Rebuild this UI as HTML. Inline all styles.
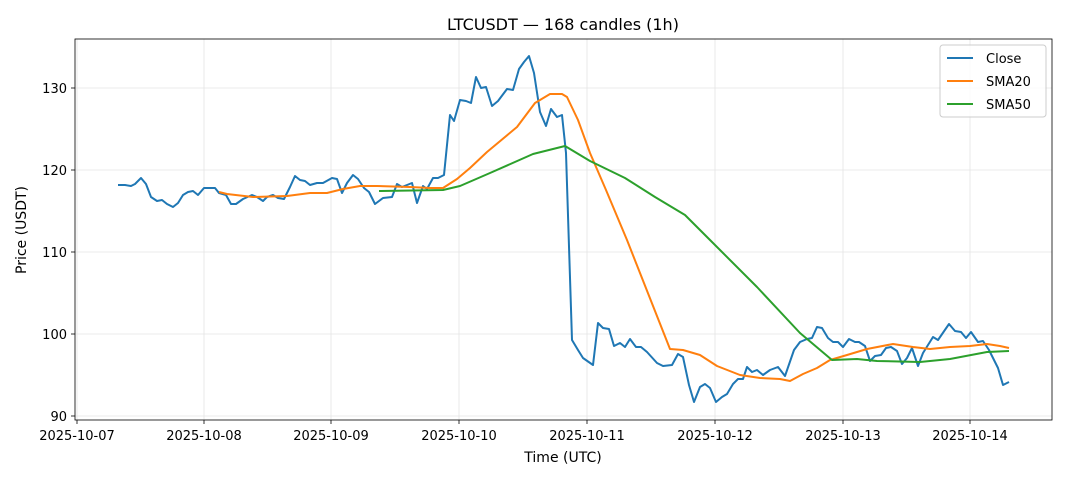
<!DOCTYPE html>
<html><head><meta charset="utf-8"><style>
body{margin:0;background:#fff;}
svg{display:block;font-family:"DejaVu Sans","Liberation Sans",sans-serif;}
</style></head><body>
<svg width="1068" height="481" viewBox="0 0 1068 481" xmlns="http://www.w3.org/2000/svg">
<rect width="1068" height="481" fill="#fff"/>
<g stroke="#e5e5e5" stroke-width="0.8">
<line x1="77" y1="39" x2="77" y2="420"/><line x1="204" y1="39" x2="204" y2="420"/><line x1="331" y1="39" x2="331" y2="420"/><line x1="459" y1="39" x2="459" y2="420"/><line x1="587" y1="39" x2="587" y2="420"/><line x1="715" y1="39" x2="715" y2="420"/><line x1="843" y1="39" x2="843" y2="420"/><line x1="970" y1="39" x2="970" y2="420"/>
<line x1="75" y1="416" x2="1052" y2="416"/><line x1="75" y1="334" x2="1052" y2="334"/><line x1="75" y1="252" x2="1052" y2="252"/><line x1="75" y1="170" x2="1052" y2="170"/><line x1="75" y1="88" x2="1052" y2="88"/>
</g>
<g fill="none" stroke-width="2" stroke-linejoin="round">
<polyline stroke="#1f77b4" points="118,185 125,185 131,186 135,184 141,178 146,184 151,197 157,201 162,200 167,204 173,207 178,203 183,195 188,192 193,191 198,195 204,188 215,188 219,193 226,195 231,204 236,204 243,199 252,195 257,197 263,201 267,197 273,195 278,198 284,199 290,187 295,176 300,180 305,181 310,185 317,183 323,183 332,178 337,179 342,193 347,183 353,175 358,179 364,188 369,192 375,204 383,198 392,197 397,184 402,187 412,183 417,203 423,186 427,189 433,178 438,178 444,175 450,115 454,121 460,100 466,101 471,103 476,77 481,88 486,87 492,106 498,101 507,89 513,90 519,69 524,62 529,56 534,73 540,112 546,126 551,109 557,117 562,115 566,153 572,340 578,350 583,358 593,365 598,323 603,328 609,329 614,346 620,343 625,347 630,339 636,347 641,347 647,352 657,363 663,366 672,365 678,354 683,357 689,385 694,402 700,387 705,384 710,388 716,402 722,397 727,394 733,384 738,379 743,379 747,367 752,372 757,370 763,375 770,370 778,367 785,376 794,350 800,342 807,339 812,338 817,327 822,328 828,338 833,342 838,342 843,347 849,339 855,342 859,342 865,346 870,361 875,356 881,355 886,348 891,347 897,351 902,364 907,358 912,348 918,366 923,353 933,337 938,340 949,324 955,331 961,332 966,338 971,332 978,342 983,341 989,350 998,368 1003,385 1009,382"/>
<polyline stroke="#ff7f0e" points="219,192 227,194 253,197 287,196 310,193 327,193 343,189 360,186 377,186 410,187 430,188 443,188 457,179 470,168 487,152 517,127 535,103 550,94 562,94 567,97 578,120 590,153 606,190 627,240 640,273 670,349 683,350 700,355 717,366 740,375 760,378 780,379 790,381 803,374 817,368 830,360 847,355 867,349 893,344 913,347 930,349 950,347 970,346 987,344 1000,346 1009,348"/>
<polyline stroke="#2ca02c" points="379,191 443,190 460,186 490,173 533,154 565,146 590,161 625,178 655,197 685,215 710,240 757,287 800,333 832,360 857,359 877,361 920,362 950,359 987,352 1009,351"/>
</g>
<rect x="75" y="39" width="977" height="381" fill="none" stroke="#000" stroke-width="0.8"/>
<g stroke="#000" stroke-width="0.8">
<line x1="77" y1="420" x2="77" y2="424"/><line x1="204" y1="420" x2="204" y2="424"/><line x1="331" y1="420" x2="331" y2="424"/><line x1="459" y1="420" x2="459" y2="424"/><line x1="587" y1="420" x2="587" y2="424"/><line x1="715" y1="420" x2="715" y2="424"/><line x1="843" y1="420" x2="843" y2="424"/><line x1="970" y1="420" x2="970" y2="424"/>
<line x1="71" y1="416" x2="75" y2="416"/><line x1="71" y1="334" x2="75" y2="334"/><line x1="71" y1="252" x2="75" y2="252"/><line x1="71" y1="170" x2="75" y2="170"/><line x1="71" y1="88" x2="75" y2="88"/>
</g>
<g font-size="13" fill="#000" text-anchor="middle">
<text x="77" y="440">2025-10-07</text><text x="204" y="440">2025-10-08</text><text x="331" y="440">2025-10-09</text><text x="459" y="440">2025-10-10</text><text x="587" y="440">2025-10-11</text><text x="715" y="440">2025-10-12</text><text x="843" y="440">2025-10-13</text><text x="970" y="440">2025-10-14</text>
</g>
<g font-size="13" fill="#000" text-anchor="end">
<text x="67" y="421">90</text><text x="67" y="339">100</text><text x="67" y="257">110</text><text x="67" y="175">120</text><text x="67" y="93">130</text>
</g>
<text x="563" y="462" font-size="14" text-anchor="middle">Time (UTC)</text>
<text x="26" y="230" font-size="14" text-anchor="middle" transform="rotate(-90 26 230)">Price (USDT)</text>
<text x="563" y="30" font-size="16" text-anchor="middle">LTCUSDT — 168 candles (1h)</text>
<rect x="940" y="45" width="106" height="72" rx="3" fill="#fff" fill-opacity="0.8" stroke="#ccc"/>
<g stroke-width="2"><line x1="947" y1="58" x2="973" y2="58" stroke="#1f77b4"/><line x1="947" y1="81" x2="973" y2="81" stroke="#ff7f0e"/><line x1="947" y1="104" x2="973" y2="104" stroke="#2ca02c"/></g>
<g font-size="13" fill="#000"><text x="986" y="63">Close</text><text x="986" y="86">SMA20</text><text x="986" y="109">SMA50</text></g>
</svg>
</body></html>
